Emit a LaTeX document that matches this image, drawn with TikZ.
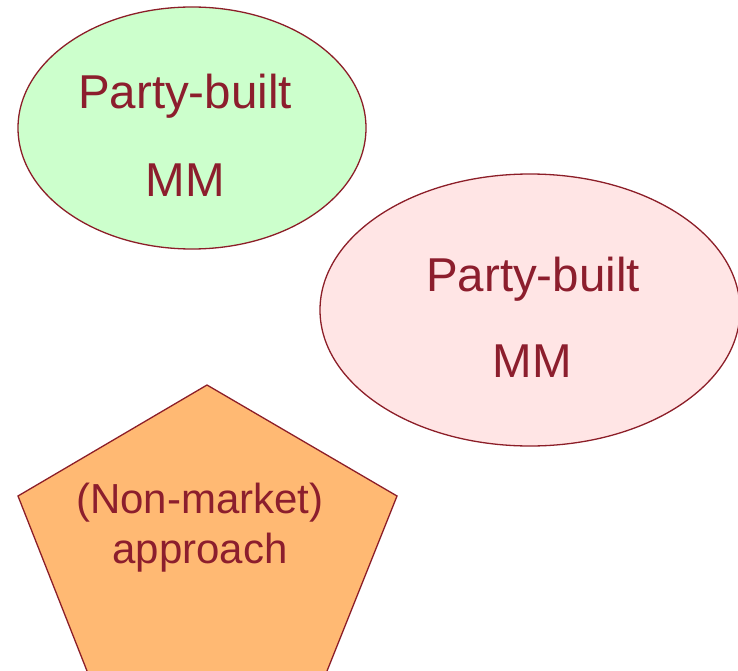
\documentclass[tikz,border=0pt]{standalone}
\usepackage{fontspec}
\setmainfont{Liberation Sans}
\usetikzlibrary{shapes.geometric}
\definecolor{txtred}{RGB}{140,30,45}
\definecolor{edgered}{RGB}{140,30,40}
\definecolor{fillgreen}{RGB}{204,255,204}
\definecolor{fillpink}{RGB}{255,229,229}
\definecolor{fillorange}{RGB}{255,185,115}
\tikzset{
  blob/.style={ellipse, draw=edgered, line width=1.3pt, inner sep=0pt},
  bigtxt/.style={anchor=base, text=txtred, inner sep=0pt, font=\fontsize{47.5}{57}\selectfont},
  midtxt/.style={anchor=base, text=txtred, inner sep=0pt, font=\fontsize{42}{50}\selectfont}
}
\begin{document}
\begin{tikzpicture}[x=1pt,y=-1pt]
\useasboundingbox (0,0) rectangle (738,671);
\clip (0,0) rectangle (738,671);
\node[blob, fill=fillgreen, minimum width=348pt, minimum height=242pt] (e1) at (192,128) {};
\node[bigtxt] (e1a) at (185,109) {Party-built};
\node[bigtxt] (e1b) at (185,196) {MM};
\node[blob, fill=fillpink, minimum width=420pt, minimum height=272pt] (e2) at (530,310) {};
\node[bigtxt] (e2a) at (533,291) {Party-built};
\node[bigtxt] (e2b) at (532,377) {MM};
\path[draw=edgered, line width=1.3pt, fill=fillorange, line join=miter]
  (207,385) -- (397,496) -- (325,676) -- (89,676) -- (18,496) -- cycle;
\node[midtxt] (p1) at (200,513) {(Non-market)};
\node[midtxt] (p2) at (200,563) {approach};
\end{tikzpicture}
\end{document}
